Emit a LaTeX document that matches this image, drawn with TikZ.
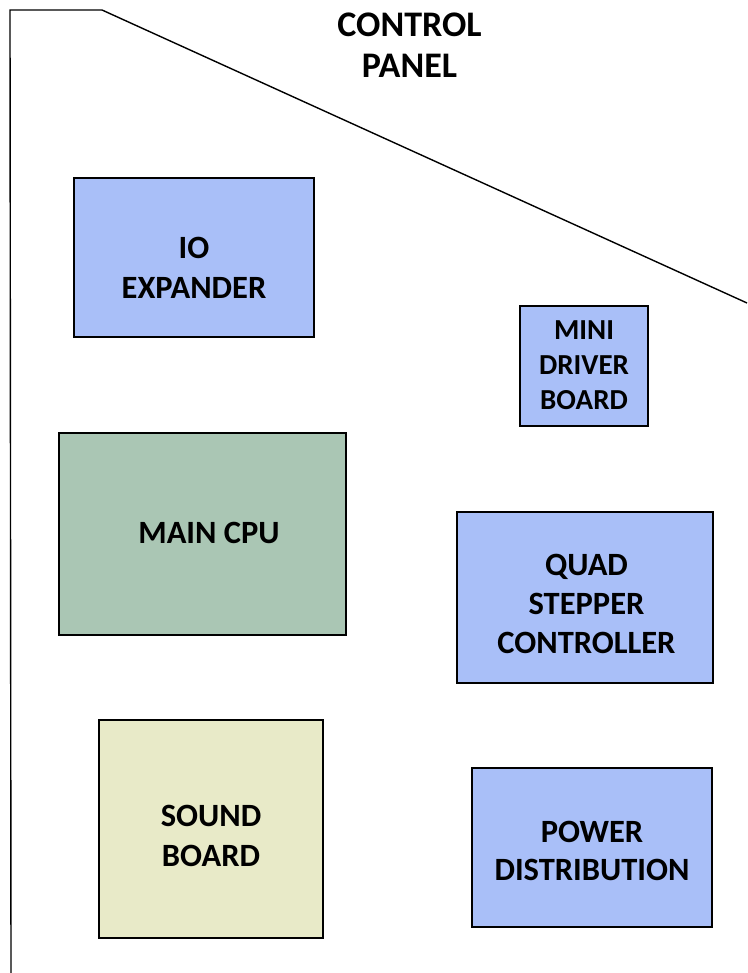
\documentclass[tikz,border=0pt]{standalone}
\usepackage{fontspec}
\setmainfont{Carlito}
\definecolor{boardblue}{RGB}{169,191,248}
\definecolor{cpugreen}{RGB}{170,198,180}
\definecolor{soundyel}{RGB}{232,234,200}
\tikzset{
  board/.style={draw=black, line width=1.6pt, inner sep=0pt},
  boardtext/.style={align=center, inner sep=0pt,
    font=\bfseries\fontsize{32.5}{40}\selectfont},
  panelline/.style={draw=black, line width=1.4pt}
}
\begin{document}
\begin{tikzpicture}[x=1pt,y=-1pt]
\useasboundingbox (0,0) rectangle (747,973);
\coordinate (pb) at (11,973);
\coordinate (ptl) at (10,10);
\coordinate (ptc) at (102,10);
\coordinate (pr) at (747,303);
\draw[panelline] (pb) -- (ptl) -- (ptc) -- (pr);
\node[boardtext, font=\bfseries\fontsize{36}{41}\selectfont] (title) at (409.5,45) {CONTROL\\PANEL};
% boards
\node[board, fill=boardblue, minimum width=240pt, minimum height=159pt] (io) at (194,257.5) {};
\node[boardtext] (iot) at ([yshift=-10pt]io.center) {IO\\EXPANDER};
\node[board, fill=boardblue, minimum width=128pt, minimum height=120pt] (mini) at (584,366) {};
\node[boardtext, font=\bfseries\fontsize{29}{35}\selectfont] (minit) at ([yshift=1pt]mini.center) {MINI\\DRIVER\\BOARD};
\node[board, fill=cpugreen, minimum width=287pt, minimum height=202pt] (cpu) at (202.5,534) {};
\node[boardtext] (cput) at ([xshift=6.5pt,yshift=1pt]cpu.center) {MAIN CPU};
\node[board, fill=boardblue, minimum width=256pt, minimum height=171pt] (quad) at (585,597.5) {};
\node[boardtext, font=\bfseries\fontsize{32.5}{39}\selectfont] (quadt) at ([xshift=1.5pt,yshift=-6.5pt]quad.center) {QUAD\\STEPPER\\CONTROLLER};
\node[board, fill=soundyel, minimum width=224pt, minimum height=218pt] (sound) at (211,829) {};
\node[boardtext] (soundt) at ([yshift=-7pt]sound.center) {SOUND\\BOARD};
\node[board, fill=boardblue, minimum width=240pt, minimum height=159pt] (power) at (592,847.5) {};
\node[boardtext, font=\bfseries\fontsize{32.5}{38}\selectfont] (powert) at ([yshift=-3.5pt]power.center) {POWER\\DISTRIBUTION};
\end{tikzpicture}
\end{document}
